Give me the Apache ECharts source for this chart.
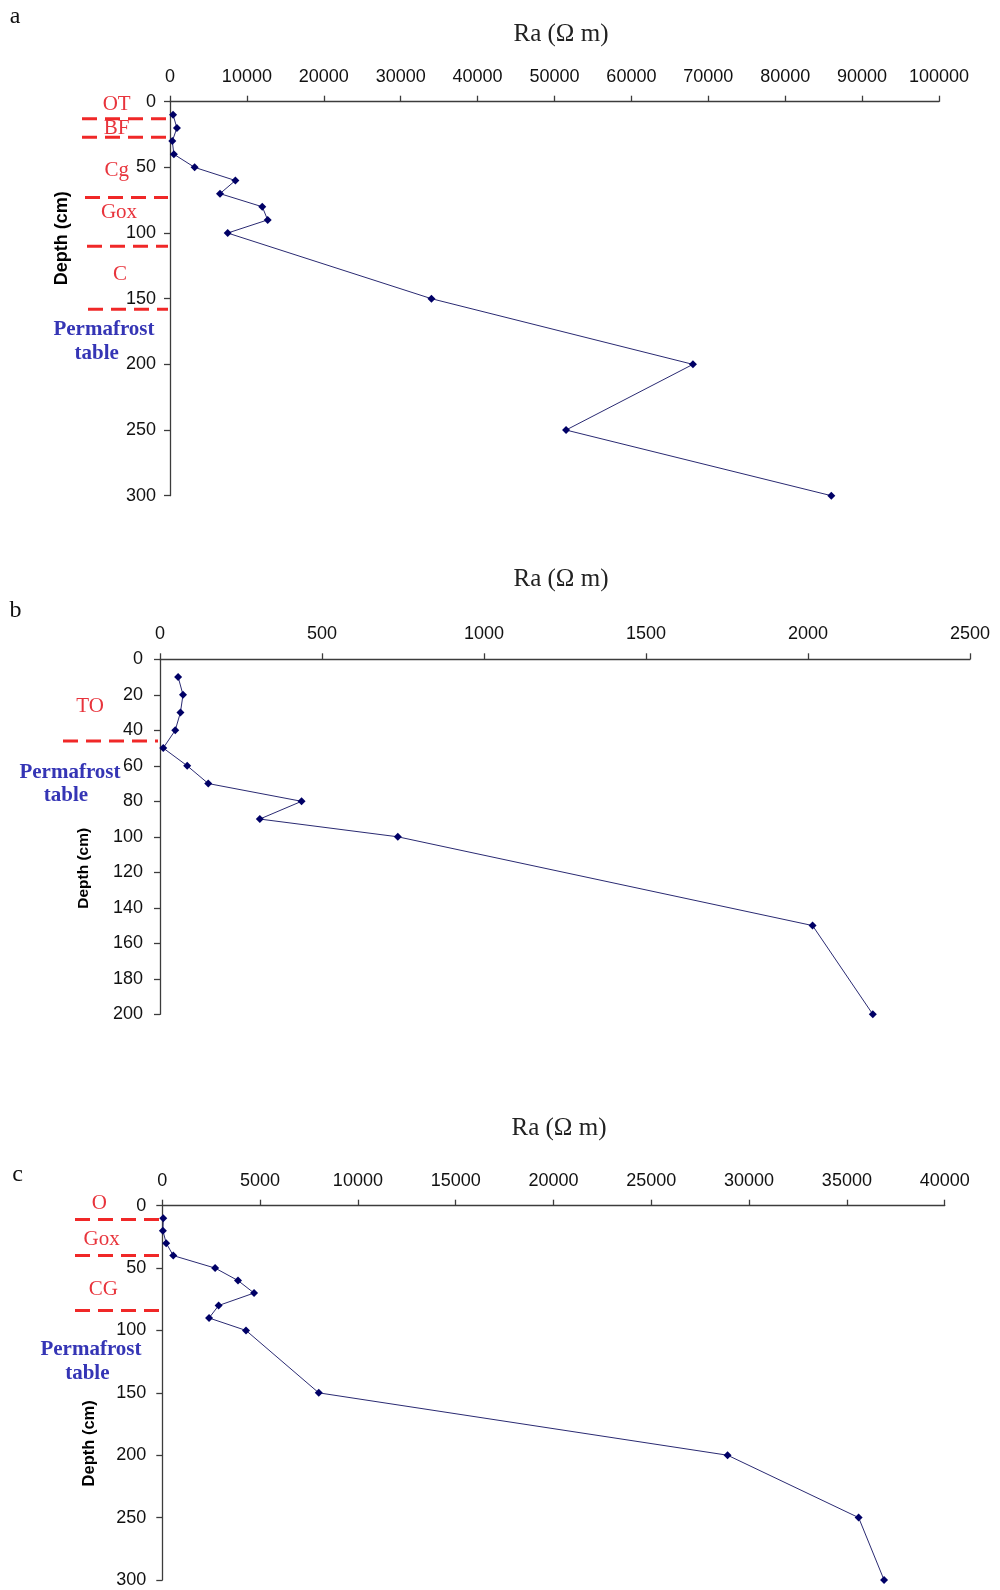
<!DOCTYPE html>
<html><head><meta charset="utf-8">
<script src="https://cdn.jsdelivr.net/npm/echarts@6/dist/echarts.min.js"></script>
<style>html,body{margin:0;padding:0;background:#fff}#c{width:1000px;height:1590px}</style>
</head><body><div id="c"></div>
<script>
// ---- data ----
const depthA = [10,20,30,40,50,60,70,80,90,100,150,200,250,300];
const resA   = [400,900,300,500,3200,8500,6500,12000,12700,7500,34000,68000,51500,86000];
const depthB = [10,20,30,40,50,60,70,80,90,100,150,200];
const resB   = [56,71,63,47,10,84,149,437,308,734,2014,2200];
const depthC = [10,20,30,40,50,60,70,80,90,100,150,200,250,300];
const resC   = [50,30,200,560,2700,3870,4690,2880,2390,4280,8000,28900,35600,36900];
const horizonsA = ['OT','BF','Cg','Gox','C'];
const boundsA   = [13,27,73,110,158];
const horizonsB = ['TO'];
const boundsB   = [46];
const horizonsC = ['O','Gox','CG'];
const boundsC   = [11,40,84];
const xTitle = 'Ra (Ω m)';
const yTitle = 'Depth (cm)';
const pfText = ['Permafrost','table'];
const panelLetters = ['a','b','c'];

// ---- chart ----
const chart = echarts.init(document.getElementById('c'), null, {renderer:'canvas'});
const axisCol = '#3c3c3c';
const tickFont = {fontFamily:'Liberation Sans, Arial, sans-serif', fontSize:18, color:'#111',
  formatter: v => String(v)};

function xAx(idx, max, interval){
  return {type:'value', gridIndex:idx, position:'top', min:0, max:max, interval:interval,
    axisLine:{show:true, onZero:false, lineStyle:{color:axisCol, width:1.3}},
    axisTick:{show:true, inside:false, length:6, lineStyle:{color:axisCol, width:1.3}},
    axisLabel:Object.assign({margin:16}, tickFont),
    splitLine:{show:false}};
}
function yAx(idx, max, interval, margin){
  return {type:'value', gridIndex:idx, inverse:true, min:0, max:max, interval:interval,
    axisLine:{show:true, onZero:false, lineStyle:{color:axisCol, width:1.3}},
    axisTick:{show:true, inside:false, length:6, lineStyle:{color:axisCol, width:1.3}},
    axisLabel:Object.assign({margin:margin}, tickFont),
    splitLine:{show:false}};
}
function ser(idx, xs, ys){
  return {type:'line', xAxisIndex:idx, yAxisIndex:idx,
    data: xs.map((v,i)=>[v, ys[i]]),
    symbol:'diamond', symbolSize:8, showSymbol:true,
    lineStyle:{color:'#2a2a72', width:1},
    itemStyle:{color:'#000066'},
    animation:false};
}

chart.setOption({
  animation:false,
  backgroundColor:'#fff',
  grid:[
    {left:170, top:101.7, width:769, height:394},
    {left:160, top:659.3, width:810, height:355},
    {left:162.3, top:1205.7, width:782.4, height:374.3}
  ],
  xAxis:[xAx(0,100000,10000), xAx(1,2500,500), xAx(2,40000,5000)],
  yAxis:[yAx(0,300,50,14), yAx(1,200,20,17), yAx(2,300,50,16)],
  series:[ser(0,resA,depthA), ser(1,resB,depthB), ser(2,resC,depthC)]
});

// ---- annotations ----
const red = '#E8343C', dashRed = '#F02828', blue = '#3535B5';
const serif = 'Liberation Serif, Times New Roman, serif';
const sans = 'Liberation Sans, Arial, sans-serif';
const g = [];
function txt(x,y,t,font,fill,rot){
  g.push({type:'text', x:x, y:y, rotation:rot||0, silent:true,
    style:{text:t, x:0, y:0, font:font, fill:fill, align:'center', verticalAlign:'middle',
           textAlign:'center', textVerticalAlign:'middle'}});
}
function dashes(idx, bounds, starts, xEnd){
  bounds.forEach((d,i)=>{
    const y = chart.convertToPixel({yAxisIndex:idx}, d);
    g.push({type:'line', silent:true, shape:{x1:starts[i], y1:y, x2:xEnd, y2:y},
      style:{stroke:dashRed, lineWidth:3, lineDash:[15,8]}});
  });
}
dashes(0, boundsA, [82,82,85,87,88], 168);
dashes(1, boundsB, [63], 158);
dashes(2, boundsC, [75,75,75], 162);

// axis titles
txt(561,34,xTitle,'25px '+serif,'#222');
txt(561,579,xTitle,'25px '+serif,'#222');
txt(559,1128,xTitle,'25px '+serif,'#222');

// panel letters
txt(15,17,panelLetters[0],'24px '+serif,'#111');
txt(15.5,611,panelLetters[1],'24px '+serif,'#111');
txt(17.5,1175,panelLetters[2],'24px '+serif,'#111');

// horizon labels
const hA = [[116.7,104],[116.7,128.3],[116.7,170.7],[119,212.7],[120,274]];
horizonsA.forEach((t,i)=>txt(hA[i][0],hA[i][1],t,'21px '+serif,red));
txt(90,706.7,horizonsB[0],'21px '+serif,red);
const hC = [[99.3,1203.3],[101.7,1239],[103.3,1289.3]];
horizonsC.forEach((t,i)=>txt(hC[i][0],hC[i][1],t,'21px '+serif,red));

// permafrost table
txt(104,329.3,pfText[0],'bold 21px '+serif,blue); txt(96.7,354,pfText[1],'bold 21px '+serif,blue);
txt(70,772.7,pfText[0],'bold 21px '+serif,blue); txt(66,795.7,pfText[1],'bold 21px '+serif,blue);
txt(91,1350,pfText[0],'bold 21px '+serif,blue); txt(87.3,1374,pfText[1],'bold 21px '+serif,blue);

// depth titles
txt(62.3,238.3,yTitle,'bold 18px '+sans,'#000',Math.PI/2);
txt(83.3,868.3,yTitle,'bold 15.5px '+sans,'#000',Math.PI/2);
txt(89.3,1443.3,yTitle,'bold 16.5px '+sans,'#000',Math.PI/2);

chart.setOption({graphic:g});
</script></body></html>
